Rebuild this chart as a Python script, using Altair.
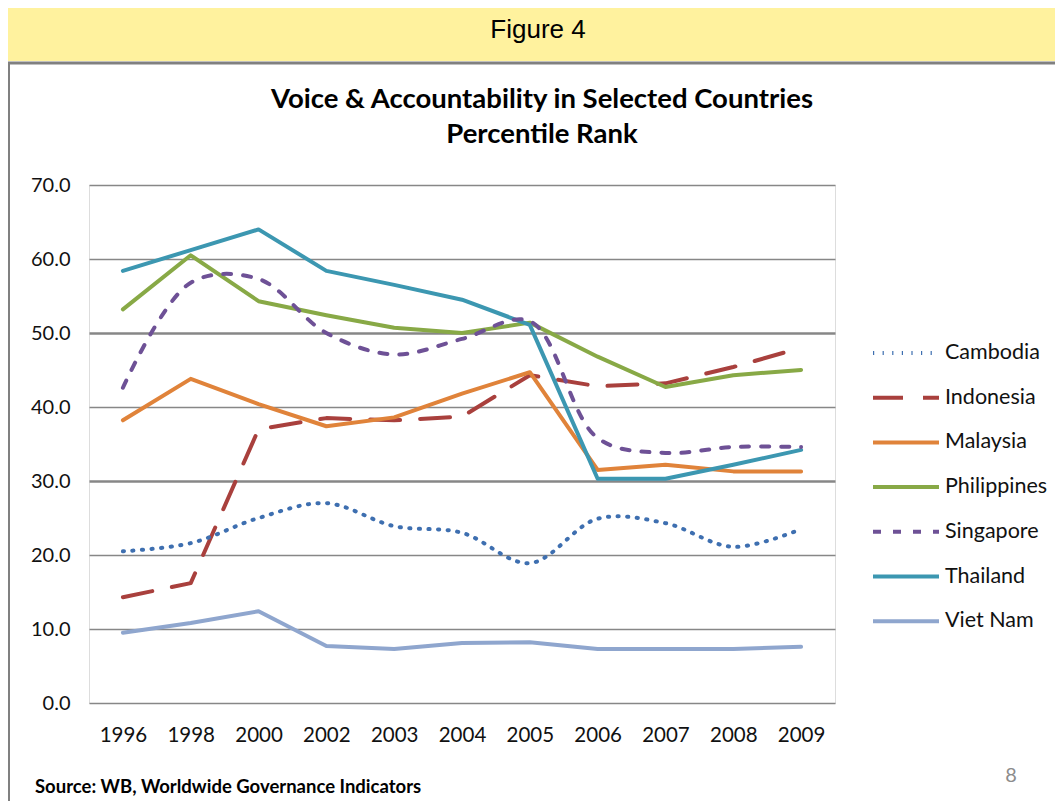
import altair as alt
import pandas as pd

years = ["1996", "1998", "2000", "2002", "2003", "2004", "2005", "2006", "2007", "2008", "2009"]
countries = ["Cambodia", "Indonesia", "Malaysia", "Philippines", "Singapore", "Thailand", "Viet Nam"]
cambodia = [20.5, 21.6, 25.0, 27.0, 23.9, 23.0, 18.9, 24.9, 24.3, 21.1, 23.5]
indonesia = [14.3, 16.2, 37.0, 38.5, 38.2, 38.7, 44.3, 42.8, 43.2, 45.4, 48.0]
malaysia = [38.2, 43.8, 40.4, 37.4, 38.6, 41.8, 44.7, 31.5, 32.2, 31.3, 31.3]
philippines = [53.2, 60.5, 54.3, 52.4, 50.7, 50.0, 51.4, 46.8, 42.7, 44.3, 45.0]
singapore = [42.6, 56.8, 57.3, 50.0, 47.1, 49.2, 51.6, 35.8, 33.8, 34.6, 34.6]
thailand = [58.4, 61.2, 64.0, 58.4, 56.5, 54.5, 51.1, 30.3, 30.3, 32.2, 34.2]
vietnam = [9.5, 10.8, 12.4, 7.7, 7.3, 8.1, 8.2, 7.3, 7.3, 7.3, 7.6]
y_ticks = [0, 10, 20, 30, 40, 50, 60, 70]

colors = ["#3E6FB0", "#A9403D", "#E0833A", "#88A946", "#6E5196", "#3C97B1", "#8FA6CE"]
dashes = [[1.2, 8.4], [30, 20], [], [], [8, 12], [], []]
smooth_series = ["Cambodia", "Singapore"]

series = [cambodia, indonesia, malaysia, philippines, singapore, thailand, vietnam]
rows = []
for c, vals in zip(countries, series):
    for yr, v in zip(years, vals):
        rows.append({"Year": yr, "Country": c, "Value": v})
df = pd.DataFrame(rows)

FONT = "Lato"

x_enc = alt.X("Year:O", sort=years, title=None,
              axis=alt.Axis(labelAngle=0, labelFontSize=20.5, labelFont=FONT, labelColor="#111111",
                            labelPadding=22, ticks=False, domain=False, grid=False))
y_enc = alt.Y("Value:Q", title=None, scale=alt.Scale(domain=[0, 70], nice=False),
              axis=alt.Axis(values=y_ticks, format=".1f", labelFontSize=20, labelFont=FONT,
                            labelColor="#111111", labelPadding=19, ticks=False, domain=False,
                            gridColor="#878787",
                            gridWidth={"condition": {"test": "datum.value === 50 || datum.value === 30", "value": 2.6}, "value": 1.5}))
color_enc = alt.Color("Country:N", sort=countries,
                      scale=alt.Scale(domain=countries, range=colors),
                      legend=alt.Legend(orient="none", legendX=783 + 21, legendY=155, title=None,
                                        symbolType="M-3,0H3", symbolSize=484, symbolStrokeWidth=4,
                                        labelFontSize=21.5, labelFont=FONT, labelColor="#111111",
                                        rowPadding=20.7, labelOffset=26))
dash_enc = alt.StrokeDash("Country:N", sort=countries,
                          scale=alt.Scale(domain=countries, range=dashes), legend=None)

base = alt.Chart(df).encode(x=x_enc, y=y_enc, color=color_enc, strokeDash=dash_enc)
straight = base.transform_filter(
    alt.FieldOneOfPredicate(field="Country", oneOf=[c for c in countries if c not in smooth_series])
).mark_line(strokeWidth=4, strokeCap="round", strokeJoin="round")
smooth = base.transform_filter(
    alt.FieldOneOfPredicate(field="Country", oneOf=smooth_series)
).mark_line(strokeWidth=4, strokeCap="round", strokeJoin="round", interpolate="catmull-rom")

one = pd.DataFrame({"_": [0]})
band = alt.Chart(one).mark_rect(color="#FFF29E").encode(
    x=alt.value(-81), x2=alt.value(966), y=alt.value(-177), y2=alt.value(-124))
top_border = alt.Chart(one).mark_rule(color="#808080", strokeWidth=3).encode(
    x=alt.value(-81), x2=alt.value(966), y=alt.value(-122))
left_border = alt.Chart(one).mark_rule(color="#808080", strokeWidth=2).encode(
    x=alt.value(-80), y=alt.value(-122), y2=alt.value(620))
fig_label = alt.Chart(one).mark_text(text="Figure 4", font="Liberation Sans", fontSize=26,
                                     color="#000000", align="center", baseline="middle").encode(
    x=alt.value(449), y=alt.value(-155))
title1 = alt.Chart(one).mark_text(text="Voice & Accountability in Selected Countries", font=FONT,
                                  fontSize=27.5, fontWeight="bold", color="#000000",
                                  align="center", baseline="middle").encode(
    x=alt.value(453), y=alt.value(-85))
title2 = alt.Chart(one).mark_text(text="Percentile Rank", font=FONT, fontSize=27.5, fontWeight="bold",
                                  color="#000000", align="center", baseline="middle").encode(
    x=alt.value(453), y=alt.value(-50))
source = alt.Chart(one).mark_text(text="Source: WB, Worldwide Governance Indicators", font=FONT,
                                  fontSize=18.5, fontWeight="bold", color="#000000",
                                  align="left", baseline="middle").encode(
    x=alt.value(-54), y=alt.value(602))
page_no = alt.Chart(one).mark_text(text="8", font=FONT, fontSize=20, color="#8C8C8C",
                                   align="center", baseline="middle").encode(
    x=alt.value(922), y=alt.value(591))

chart = alt.layer(band, top_border, left_border, fig_label, title1, title2, source, page_no,
                  straight, smooth).properties(
    width=746, height=518,
    autosize=alt.AutoSizeParams(type="none"),
    padding={"left": 81, "top": 177, "right": 220, "bottom": 98},
).configure_view(stroke=None).configure(background="#FFFFFF")

chart.save("out.html", embed_options={"renderer": "svg", "actions": False})
